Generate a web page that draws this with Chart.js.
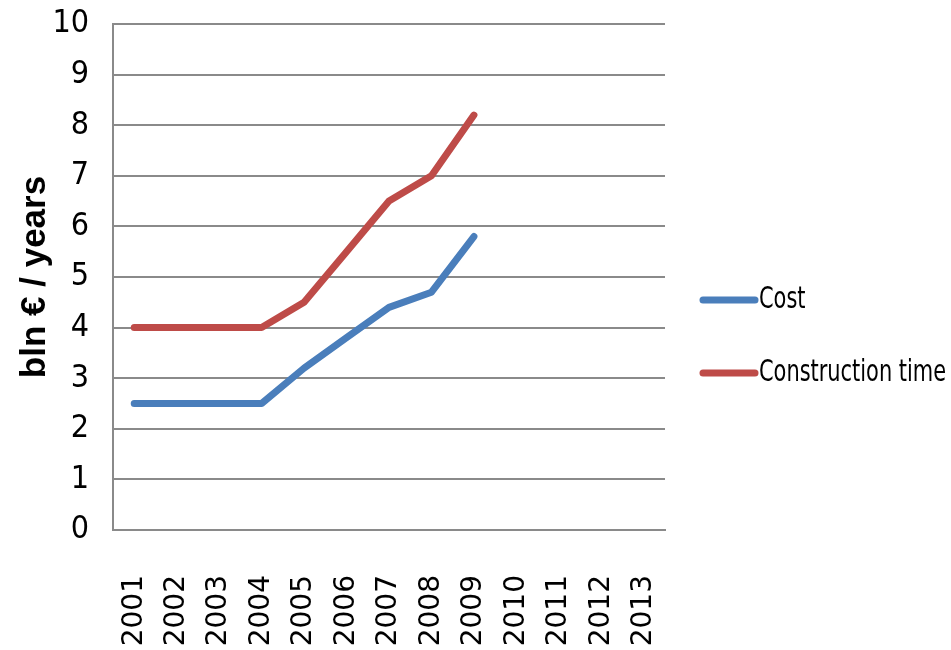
<!DOCTYPE html>
<html>
<head>
<meta charset="utf-8">
<script src="https://cdn.jsdelivr.net/npm/chart.js@4"></script>
<style>
html,body{margin:0;padding:0;background:#fff;}
#wrap{width:951px;height:650px;position:relative;}
</style>
</head>
<body>
<div id="wrap"><canvas id="c" width="951" height="650"></canvas></div>
<script>
const years = ['2001','2002','2003','2004','2005','2006','2007','2008','2009','2010','2011','2012','2013'];
const cost = [2.5, 2.5, 2.5, 2.5, 3.2, 3.8, 4.4, 4.7, 5.8];
const constructionTime = [4, 4, 4, 4, 4.5, 5.5, 6.5, 7, 8.2];
const seriesNames = ['Cost', 'Construction time'];
const seriesColors = ['#4A7EBB', '#BE4B48'];
const yTitle = 'bln € / years';

const narrow = '"DejaVu Sans Condensed", "Liberation Sans Narrow", sans-serif';

const legendPlugin = {
  id: 'sideLegend',
  afterDraw(chart) {
    const ctx = chart.ctx;
    const x0 = 703, x1 = 755;
    const ys = [300, 373];
    ctx.save();
    chart.data.datasets.forEach((ds, i) => {
      ctx.strokeStyle = ds.borderColor;
      ctx.lineWidth = 7;
      ctx.lineCap = 'round';
      ctx.beginPath();
      ctx.moveTo(x0, ys[i]);
      ctx.lineTo(x1, ys[i]);
      ctx.stroke();
      ctx.fillStyle = '#000';
      ctx.font = '30px ' + narrow;
      ctx.textBaseline = 'middle';
      ctx.textAlign = 'left';
      ctx.save();
      ctx.translate(x1 + 4, ys[i]);
      ctx.scale(0.775, 1);
      ctx.fillText(ds.label, 0, 0);
      ctx.restore();
    });
    ctx.restore();
  }
};

new Chart(document.getElementById('c'), {
  type: 'line',
  data: {
    labels: years,
    datasets: [
      { label: seriesNames[0], data: cost, borderColor: seriesColors[0], backgroundColor: seriesColors[0],
        borderWidth: 7, pointRadius: 0, tension: 0, borderCapStyle: 'round', borderJoinStyle: 'round' },
      { label: seriesNames[1], data: constructionTime, borderColor: seriesColors[1], backgroundColor: seriesColors[1],
        borderWidth: 7, pointRadius: 0, tension: 0, borderCapStyle: 'round', borderJoinStyle: 'round' }
    ]
  },
  options: {
    responsive: false,
    animation: false,
    layout: { autoPadding: false, padding: { top: 24, right: 286, bottom: 0, left: 0 } },
    plugins: { legend: { display: false }, tooltip: { enabled: false } },
    scales: {
      x: {
        offset: true,
        grid: { display: false, drawTicks: false },
        border: { display: true, color: '#8A8A8A', width: 2 },
        ticks: { color: '#000', font: { family: '"DejaVu Sans", sans-serif', size: 28 },
                 minRotation: 90, maxRotation: 90, padding: 45, autoSkip: false },
        afterFit(s) { s.height = 120; }
      },
      y: {
        min: 0, max: 10,
        ticks: { stepSize: 1, color: '#000', font: { family: narrow, size: 32 }, padding: 0 },
        grid: { color: '#8A8A8A', lineWidth: 2, drawTicks: true, tickLength: 24, tickColor: 'rgba(0,0,0,0)' },
        border: { display: true, color: '#8A8A8A', width: 2 },
        title: { display: true, text: yTitle, color: '#000',
                 font: { family: '"Liberation Sans", Arial, sans-serif', size: 35, weight: 'bold' },
                 padding: { top: 14, bottom: 0 } },
        afterFit(s) { s.width = 113; }
      }
    }
  },
  plugins: [legendPlugin]
});
</script>
</body>
</html>
